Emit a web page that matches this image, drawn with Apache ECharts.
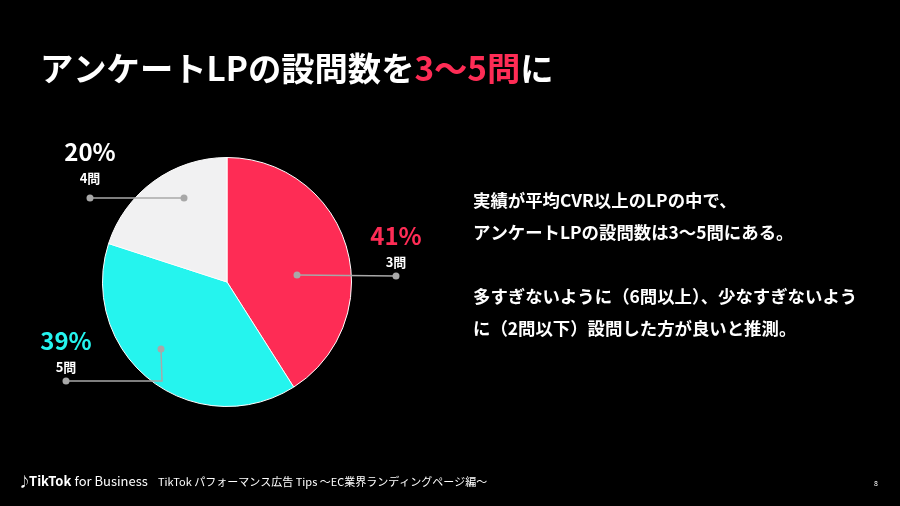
<!DOCTYPE html>
<html>
<head>
<meta charset="utf-8">
<style>
html,body{margin:0;padding:0;background:#000;}
#c{width:900px;height:506px;}
</style>
<script src="https://cdn.jsdelivr.net/npm/echarts@6/dist/echarts.min.js"></script>
</head>
<body>
<div id="c"></div>
<script>
// data
var categories = ['3問', '5問', '4問'];
var shares = [41, 39, 20];
var sliceColors = ['#FE2C55', '#25F4EE', '#F1F1F2'];
var pctColors = ['#FE2C55', '#25F4EE', '#FFFFFF'];

// annotation layout (label anchors and leader lines)
var labelAnchors = [[396, 248], [66, 353], [90, 164]];
var leaderLines = [
  [[297, 275], [396, 276]],
  [[161, 349], [162, 381], [66, 381]],
  [[184, 198], [90, 198]]
];

var F = '"Noto Sans CJK JP", "Noto Sans", sans-serif';
var chart = echarts.init(document.getElementById('c'));

var leaders = [];
leaderLines.forEach(function (pts) {
  leaders.push({ type: 'polyline', shape: { points: pts }, style: { stroke: '#a8a8a8', lineWidth: 1.5, fill: null }, z: 100 });
  [pts[0], pts[pts.length - 1]].forEach(function (p) {
    leaders.push({ type: 'circle', shape: { cx: p[0], cy: p[1], r: 3.5 }, style: { fill: '#a8a8a8' }, z: 101 });
  });
});

var option = {
  backgroundColor: '#000',
  title: {
    left: 35, top: 47,
    text: '{w|アンケートLPの設問数を}{r|3〜5問}{w|に}',
    textStyle: {
      rich: {
        w: { color: '#fff', fontSize: 33.3, fontWeight: 'bold', fontFamily: F },
        r: { color: '#FE2C55', fontSize: 33.3, fontWeight: 'bold', fontFamily: F }
      }
    }
  },
  graphic: leaders.concat([
    {
      type: 'text', left: 473, top: 184, z: 50,
      style: {
        text: '実績が平均CVR以上のLPの中で、\nアンケートLPの設問数は3〜5問にある。\n\n多すぎないように（6問以上）、少なすぎないよう\nに（2問以下）設問した方が良いと推測。',
        fill: '#fff', font: 'bold 17.4px ' + F, lineHeight: 32
      }
    },
    {
      type: 'text', left: 18, top: 475, z: 50,
      style: { text: '♪', fill: '#fff', font: 'bold 13px ' + F }
    },
    {
      type: 'text', left: 29, top: 475, z: 50,
      style: {
        text: '{b|TikTok} {n|for Business}',
        rich: {
          b: { fill: '#fff', font: 'bold 13px ' + F },
          n: { fill: '#fff', font: '13px ' + F }
        }
      }
    },
    {
      type: 'text', left: 158, top: 476, z: 50,
      style: { text: 'TikTok パフォーマンス広告 Tips 〜EC業界ランディングページ編〜', fill: '#fff', font: '11px ' + F }
    },
    {
      type: 'text', left: 874, top: 480, z: 50,
      style: { text: '8', fill: '#fff', font: '7px ' + F }
    }
  ]),
  series: [{
    type: 'pie',
    center: [227, 282],
    radius: 124.5,
    startAngle: 90,
    clockwise: true,
    silent: true,
    animation: false,
    itemStyle: { borderColor: '#fff', borderWidth: 1 },
    data: categories.map(function (c, i) {
      return {
        name: c, value: shares[i],
        itemStyle: { color: sliceColors[i] },
        label: {
          rich: {
            p: { color: pctColors[i], fontSize: 24, fontWeight: 'bold', fontFamily: F, lineHeight: 28, align: 'center' },
            n: { color: '#fff', fontSize: 13, fontWeight: 'bold', fontFamily: F, lineHeight: 24, align: 'center' }
          }
        }
      };
    }),
    label: {
      show: true,
      position: 'outside',
      formatter: function (p) { return '{p|' + p.value + '%}\n{n|' + p.name + '}'; }
    },
    labelLine: { show: false },
    labelLayout: function (params) {
      var i = params.dataIndex;
      return {
        x: labelAnchors[i][0], y: labelAnchors[i][1],
        align: 'center', verticalAlign: 'middle'
      };
    }
  }]
};
chart.setOption(option);
</script>
</body>
</html>
